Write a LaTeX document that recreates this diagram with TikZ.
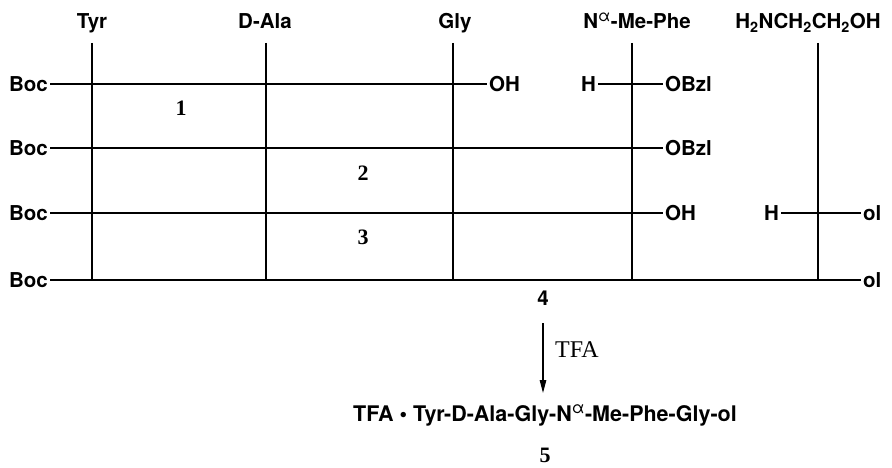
\documentclass[tikz,border=0pt]{standalone}
\usepackage{fontspec}
\setmainfont{Liberation Serif}
\setsansfont{TeX Gyre Heros}
\usetikzlibrary{arrows.meta}

\begin{document}
\begin{tikzpicture}[x=1pt,y=-1pt,
  lab/.style={font=\sffamily\bfseries\fontsize{20.5}{22}\selectfont,
              inner xsep=2pt, inner ysep=0pt, text height=14.6pt, text depth=0pt},
  head/.style={font=\sffamily\bfseries\fontsize{20.5}{22}\selectfont,
               inner sep=0pt, anchor=base},
  num/.style={font=\rmfamily\bfseries\fontsize{22}{24}\selectfont, inner sep=0pt},
  bond/.style={line width=1.6pt},
  rxn/.style={line width=1.3pt, -{Triangle[length=13pt,width=6.5pt]}}]
\useasboundingbox (0,0) rectangle (892,468);

% residue headings
\node[head] (tyr) at (92,29) {Tyr};
\node[head] (ala) at (265,29) {D-Ala};
\node[head] (gly) at (455,29) {Gly};
\node[head] (phe) at (637,29) {N\textsuperscript{\mdseries\fontsize{16}{16}\selectfont α}-Me-Phe};
\node[head] (eth) at (808,29) {H\textsubscript{2}NCH\textsubscript{2}CH\textsubscript{2}OH};

% vertical residue lines
\foreach \n/\x in {tyr/92, ala/266, gly/453, phe/632, eth/818} {
  \coordinate (\n-top) at (\x,43);
  \coordinate (\n-bot) at (\x,280);
  \draw[bond] (\n-top) -- (\n-bot);
}

% row 1: Boc-Tyr-D-Ala-Gly-OH and H-Phe-OBzl
\node[lab, anchor=east] (boc1) at (50,84) {Boc};
\node[lab, anchor=west] (oh1) at (487,84) {OH};
\node[lab, anchor=east] (h1) at (598,84) {H};
\node[lab, anchor=west] (obzl1) at (663,84) {OBzl};
\draw[bond] (boc1.east) -- (oh1.west);
\draw[bond] (h1.east) -- (obzl1.west);

% row 2
\node[lab, anchor=east] (boc2) at (50,148) {Boc};
\node[lab, anchor=west] (obzl2) at (663,148) {OBzl};
\draw[bond] (boc2.east) -- (obzl2.west);

% row 3
\node[lab, anchor=east] (boc3) at (50,213) {Boc};
\node[lab, anchor=west] (oh3) at (663,213) {OH};
\node[lab, anchor=east] (h3) at (781,213) {H};
\node[lab, anchor=west] (ol3) at (861,213) {ol};
\draw[bond] (boc3.east) -- (oh3.west);
\draw[bond] (h3.east) -- (ol3.west);

% row 4
\node[lab, anchor=east] (boc4) at (50,280) {Boc};
\node[lab, anchor=west] (ol4) at (861,280) {ol};
\draw[bond] (boc4.east) -- (ol4.west);

% compound numbers
\node[num] (c1) at (181,108) {1};
\node[num] (c2) at (363,173) {2};
\node[num] (c3) at (363,237) {3};
\node[font=\sffamily\bfseries\fontsize{20.5}{22}\selectfont, inner sep=0pt] (c4) at (543,298) {4};

% deprotection step
\coordinate (arr-top) at (543,323);
\node[head, anchor=base, font=\sffamily\bfseries\fontsize{21.5}{23}\selectfont] (prod) at (545,421)
  {TFA • Tyr-D-Ala-Gly-N\textsuperscript{\mdseries\fontsize{16.5}{16.5}\selectfont α}-Me-Phe-Gly-ol};
\coordinate (arr-tip) at (543,393);
\draw[rxn] (arr-top) -- (arr-tip);
\node[font=\rmfamily\fontsize{24}{26}\selectfont, inner sep=0pt, anchor=west] (tfa) at (555,350) {TFA};
\node[num] (c5) at (545,455) {5};
\end{tikzpicture}
\end{document}
